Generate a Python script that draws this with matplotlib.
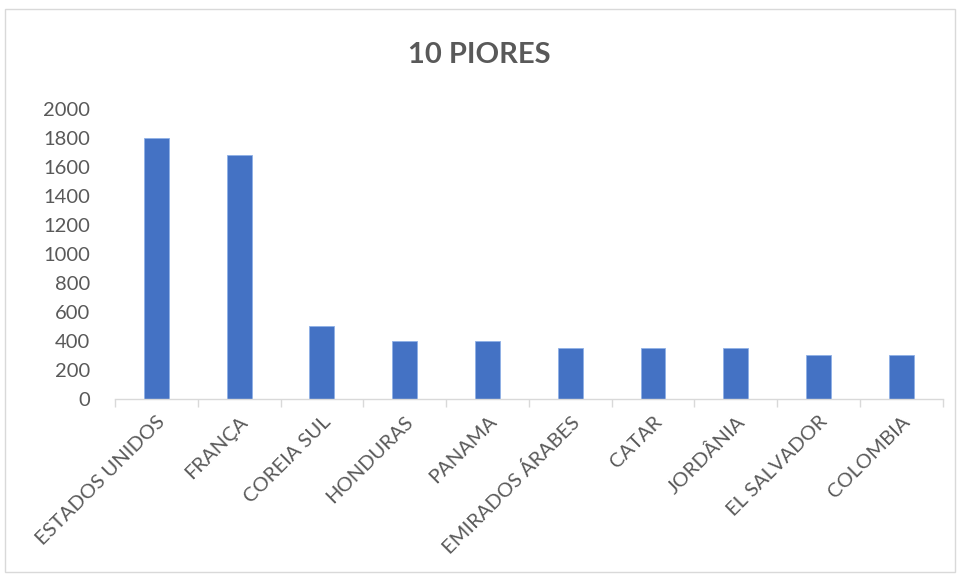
import numpy as np
import matplotlib
matplotlib.use("Agg")
import matplotlib.pyplot as plt
from matplotlib.patches import Rectangle

## data
paises = ["ESTADOS UNIDOS", "FRANÇA", "COREIA SUL", "HONDURAS", "PANAMA",
          "EMIRADOS ÁRABES", "CATAR", "JORDÂNIA", "EL SALVADOR", "COLOMBIA"]
valores = [1800, 1680, 500, 400, 400, 350, 350, 350, 300, 300]
yticks = [0, 200, 400, 600, 800, 1000, 1200, 1400, 1600, 1800, 2000]

cinza = "#595959"
azul = "#4472C4"
plt.rcParams["font.family"] = ["Lato", "DejaVu Sans"]

fig = plt.figure(figsize=(9.58, 5.81), dpi=100)
ax = fig.add_axes([0.12, 0.3133, 0.864, 0.4991])

x = np.arange(len(paises))
ax.bar(x, valores, width=0.30, color=azul, edgecolor="#8fb0e6", linewidth=0.6, zorder=2)

ax.set_xlim(-0.5, len(paises) - 0.5)
ax.set_ylim(0, 2000)
ax.set_yticks(yticks)
ax.set_yticklabels([str(v) for v in yticks], fontsize=14.5, color=cinza)
ax.tick_params(axis="y", length=0, pad=18)

## category labels on major ticks, tick marks on the boundaries
ax.set_xticks(x)
ax.set_xticklabels(paises, rotation=45, ha="right", rotation_mode="anchor",
                   fontsize=14.5, color=cinza)
ax.tick_params(axis="x", which="major", length=0, pad=10)
ax.set_xticks(np.arange(-0.5, len(paises)), minor=True)
ax.tick_params(axis="x", which="minor", length=6, color="#d9d9d9", width=1)

for s in ["top", "right", "left"]:
    ax.spines[s].set_visible(False)
ax.spines["bottom"].set_color("#d9d9d9")
ax.spines["bottom"].set_linewidth(1)

fig.text(0.5, 0.905, "10 PIORES", ha="center", va="center",
         fontsize=21, fontweight="bold", color=cinza)

## outer chart border
fig.patches.append(Rectangle((0.005, 0.015), 0.992, 0.97, transform=fig.transFigure,
                             fill=False, edgecolor="#d9d9d9", linewidth=1))

fig.savefig("out.png", dpi=100)
